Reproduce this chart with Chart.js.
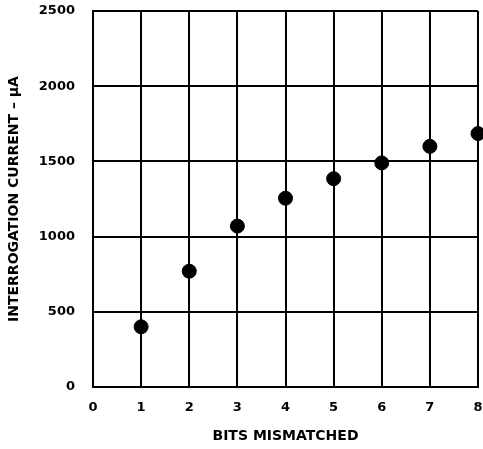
<!DOCTYPE html>
<html>
<head>
<meta charset="utf-8">
<script src="https://cdn.jsdelivr.net/npm/chart.js@4"></script>
<style>
  html, body { margin: 0; padding: 0; background: #fff; }
  #wrap { width: 483px; height: 449px; }
</style>
</head>
<body>
<div id="wrap"><canvas id="chart"></canvas></div>
<script>
(function () {
    "use strict";

    // --- Data -----------------------------------------------------------
    const bitsMismatched = [1, 2, 3, 4, 5, 6, 7, 8];
    const currentUA = [400, 770, 1070, 1255, 1385, 1490, 1600, 1685];

    const xTicks = [0, 1, 2, 3, 4, 5, 6, 7, 8];
    const yTicks = [0, 500, 1000, 1500, 2000, 2500];

    const font = "'DejaVu Sans', 'Liberation Sans', Arial, sans-serif";

    // drop the label-overflow padding so the plot box sits where the original's does
    function noOverflow(axis) {
        axis.paddingTop = 0;
        axis.paddingBottom = 0;
        axis.paddingLeft = 0;
        axis.paddingRight = 0;
    }

    const ctx = document.getElementById("chart").getContext("2d");

    new Chart(ctx, {
        type: "scatter",
        data: {
            datasets: [{
                data: bitsMismatched.map((b, i) => ({ x: b, y: currentUA[i] })),
                backgroundColor: "#000",
                borderColor: "#000",
                pointRadius: 7,
                pointHoverRadius: 7,
                clip: false
            }]
        },
        options: {
            responsive: true,
            maintainAspectRatio: false,
            animation: false,
            layout: { autoPadding: false, padding: { top: 11, right: 5, bottom: 4, left: 4 } },
            scales: {
                x: {
                    type: "linear",
                    min: xTicks[0],
                    max: xTicks[xTicks.length - 1],
                    afterBuildTicks: axis => { axis.ticks = xTicks.map(v => ({ value: v })); },
                    afterFit: axis => { axis.height = 58; noOverflow(axis); },
                    ticks: {
                        color: "#000",
                        font: { family: font, size: 13, weight: "bold" },
                        padding: 13,
                        maxRotation: 0,
                        callback: v => String(v)
                    },
                    grid: { color: "#000", lineWidth: 2, drawTicks: false },
                    border: { color: "#000", width: 2 },
                    title: {
                        display: true,
                        text: "BITS MISMATCHED",
                        color: "#000",
                        font: { family: font, size: 14, weight: "bold" },
                        padding: { top: 0, bottom: 0 }
                    }
                },
                y: {
                    type: "linear",
                    min: yTicks[0],
                    max: yTicks[yTicks.length - 1],
                    afterBuildTicks: axis => { axis.ticks = yTicks.map(v => ({ value: v })); },
                    afterFit: axis => { axis.width = 89; noOverflow(axis); },
                    ticks: {
                        color: "#000",
                        font: { family: font, size: 13, weight: "bold" },
                        padding: 18,
                        callback: v => String(v)
                    },
                    grid: { color: "#000", lineWidth: 2, drawTicks: false },
                    border: { color: "#000", width: 2 },
                    title: {
                        display: true,
                        text: "INTERROGATION CURRENT – μA",
                        color: "#000",
                        font: { family: font, size: 14, weight: "bold" },
                        padding: { top: 2, bottom: 0 }
                    }
                }
            },
            plugins: {
                legend: { display: false },
                tooltip: { enabled: false }
            }
        }
    });
})();
</script>
</body>
</html>
